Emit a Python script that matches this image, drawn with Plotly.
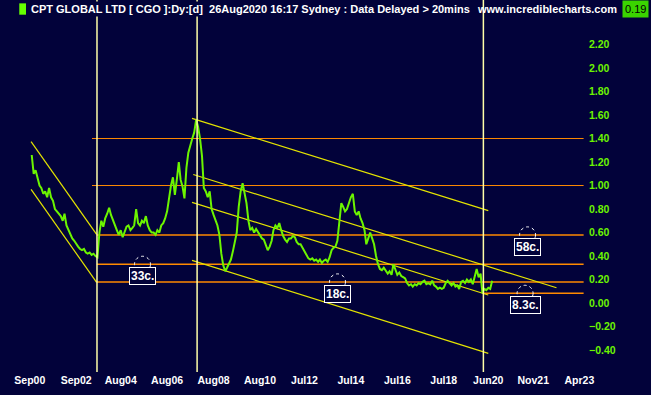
import pandas as pd
import plotly.graph_objects as go

# ---------------- data ----------------
price_start = "2000-10-01"   # monthly closes from Oct 2000 to Aug 2020
prices = [
    1.26, 1.10, 1.13, 1.05, 1.00, 0.98, 0.93, 0.95, 0.90, 0.98,
    0.90, 0.87, 0.80, 0.78, 0.76, 0.74, 0.70, 0.76, 0.66, 0.62,
    0.58, 0.55, 0.53, 0.50, 0.48, 0.46, 0.45, 0.46, 0.43, 0.42,
    0.43, 0.41, 0.42, 0.40, 0.39, 0.60, 0.70, 0.65, 0.72, 0.76,
    0.81, 0.75, 0.70, 0.66, 0.62, 0.58, 0.62, 0.56, 0.60, 0.65,
    0.66, 0.62, 0.64, 0.66, 0.80, 0.68, 0.66, 0.70, 0.68, 0.74,
    0.66, 0.62, 0.60, 0.60, 0.58, 0.62, 0.60, 0.66, 0.68, 0.72,
    0.78, 0.90, 1.00, 1.07, 0.92, 1.05, 1.20, 1.05, 0.99, 0.89,
    1.15, 1.28, 1.35, 1.40, 1.45, 1.56, 1.50, 1.40, 1.25, 0.98,
    0.95, 0.90, 0.95, 0.80, 0.75, 0.70, 0.66, 0.58, 0.42, 0.32,
    0.27, 0.30, 0.33, 0.37, 0.44, 0.52, 0.60, 0.82, 0.95, 1.02,
    0.95, 0.85, 0.70, 0.62, 0.64, 0.60, 0.63, 0.60, 0.58, 0.55,
    0.54, 0.50, 0.45, 0.48, 0.53, 0.62, 0.66, 0.64, 0.68, 0.62,
    0.57, 0.54, 0.52, 0.55, 0.55, 0.57, 0.56, 0.52, 0.50, 0.50,
    0.47, 0.44, 0.42, 0.38, 0.37, 0.38, 0.36, 0.37, 0.35, 0.37,
    0.34, 0.36, 0.37, 0.35, 0.39, 0.45, 0.47, 0.48, 0.53, 0.70,
    0.85, 0.82, 0.78, 0.80, 0.86, 0.90, 0.93, 0.78, 0.75, 0.78,
    0.72, 0.68, 0.62, 0.50, 0.55, 0.60, 0.55, 0.50, 0.40, 0.33,
    0.29, 0.28, 0.30, 0.27, 0.25, 0.27, 0.24, 0.33, 0.29, 0.24,
    0.26, 0.23, 0.22, 0.21, 0.17, 0.15, 0.16, 0.14, 0.16, 0.15,
    0.17, 0.16, 0.18, 0.19, 0.16, 0.17, 0.16, 0.19, 0.15, 0.14,
    0.12, 0.13, 0.12, 0.13, 0.17, 0.19, 0.17, 0.15, 0.17, 0.14,
    0.15, 0.12, 0.18, 0.19, 0.17, 0.20, 0.18, 0.20, 0.16, 0.22,
    0.29, 0.22, 0.25, 0.085, 0.12, 0.11, 0.13, 0.12, 0.19,
]

trend_start_dates = ["2000-09-21", "2000-09-21", "2007-08-28", "2007-09-16", "2007-08-28", "2007-08-28"]
trend_start_vals = [1.373, 0.968, 1.572, 1.094, 0.857, 0.363]
trend_end_dates = ["2003-07-19", "2003-07-19", "2020-06-01", "2023-05-10", "2020-06-01", "2020-06-01"]
trend_end_vals = [0.585, 0.176, 0.786, 0.130, 0.068, -0.428]

level_vals = [1.40, 1.00, 0.58, 0.33, 0.18, 0.083]
level_widths = [1, 1, 1.5, 1.5, 1.5, 1.5]
level_start_dates = ["2003-05-07", "2003-05-07", "2003-07-22", "2003-07-22", "2003-07-22", "2020-02-25"]
level_end_date = "2024-07-10"

vline_dates = ["2003-07-25", "2007-11-16", "2020-03-16"]

label_texts = ["33c.", "18c.", "58c.", "8.3c."]
label_levels = [0.33, 0.18, 0.58, 0.083]
label_dates = ["2005-07-10", "2013-12-03", "2022-02-09", "2022-01-01"]

tick_dates = ["2000-09-01", "2002-09-01", "2004-08-01", "2006-08-01", "2008-08-01",
              "2010-08-01", "2012-07-01", "2014-07-01", "2016-07-01", "2018-07-01",
              "2020-06-01", "2022-05-10", "2024-05-04"]
tick_texts = ["Sep00", "Sep02", "Aug04", "Aug06", "Aug08", "Aug10", "Jul12",
              "Jul14", "Jul16", "Jul18", "Jun20", "Nov21", "Apr23"]
y_ticks = [-0.4, -0.2, 0.0, 0.2, 0.4, 0.6, 0.8, 1.0, 1.2, 1.4, 1.6, 1.8, 2.0, 2.2]

title_text = "CPT GLOBAL LTD [ CGO ]:Dy:[d] &nbsp;26Aug2020 16:17 Sydney : Data Delayed &gt; 20mins"
site_text = "www.incrediblecharts.com"
last_price_text = "0.19"

# ---------------- style ----------------
BG = "#02023a"
GREEN = "#6cf500"
ORANGE = "#ff8a00"
YELLOW = "#e4e400"
VLINE = "#ffffa8"
FONT = "Liberation Sans, Arial, sans-serif"

price_dates = pd.date_range(price_start, periods=len(prices), freq="MS")

fig = go.Figure()

for xs, ys, xe, ye in zip(trend_start_dates, trend_start_vals, trend_end_dates, trend_end_vals):
    fig.add_trace(go.Scatter(x=[xs, xe], y=[ys, ye], mode="lines",
                             line=dict(color=YELLOW, width=1.2),
                             hoverinfo="skip", showlegend=False))

fig.add_trace(go.Scatter(x=price_dates, y=prices, mode="lines",
                         line=dict(color=GREEN, width=2),
                         showlegend=False))

shapes = []
for v, d0, w in zip(level_vals, level_start_dates, level_widths):
    shapes.append(dict(type="line", xref="x", yref="y", x0=d0, x1=level_end_date,
                       y0=v, y1=v, line=dict(color=ORANGE, width=w), layer="below"))
for d in vline_dates:
    shapes.append(dict(type="line", xref="x", yref="paper", x0=d, x1=d, y0=0, y1=1,
                       line=dict(color=VLINE, width=1.5), layer="above"))
for d, v in zip(label_dates, label_levels):
    shapes.append(dict(type="circle", xref="x", yref="y", xsizemode="pixel", ysizemode="pixel",
                       xanchor=d, yanchor=v, x0=-8, x1=8, y0=-8, y1=8,
                       line=dict(color="white", width=1, dash="dot")))
shapes.append(dict(type="rect", xref="paper", yref="paper", x0=0.033, x1=0.0445,
                   y0=0.9605, y1=0.991, fillcolor="#66ff00", line=dict(width=0)))

annotations = []
for t, v, d in zip(label_texts, label_levels, label_dates):
    annotations.append(dict(x=d, y=v, xref="x", yref="y", text="<b>%s</b>" % t,
                            showarrow=False, yanchor="top", yshift=-3,
                            font=dict(family=FONT, size=12, color="white"),
                            bgcolor=BG, bordercolor="white", borderwidth=1, borderpad=1))
annotations.append(dict(x=0.0497, y=0.9758, xref="paper", yref="paper", xanchor="left",
                        yanchor="middle", text="<b>%s</b>" % title_text, showarrow=False,
                        font=dict(family=FONT, size=11, color="white"), bgcolor=BG, borderpad=1))
annotations.append(dict(x=0.8134, y=0.9758, xref="paper", yref="paper", xanchor="left",
                        yanchor="middle", text="<b>%s</b>" % site_text, showarrow=False,
                        font=dict(family=FONT, size=11, color="white")))
annotations.append(dict(x=649 / 584, y=0.9758, xref="paper", yref="paper", xanchor="right",
                        yanchor="middle", text=last_price_text, showarrow=False,
                        font=dict(family=FONT, size=11, color="#000000"),
                        bgcolor="#3ad400", borderpad=2))

fig.update_layout(
    width=651, height=395,
    margin=dict(l=0, r=67, t=0, b=23, autoexpand=False),
    paper_bgcolor=BG, plot_bgcolor=BG,
    shapes=shapes, annotations=annotations,
    showlegend=False,
    hovermode=False,
    xaxis=dict(type="date", range=["1999-05-21", "2024-07-16"], automargin=False,
               tickvals=tick_dates, ticktext=tick_texts,
               showgrid=False, zeroline=False, showline=False, ticks="",
               tickfont=dict(family=FONT, size=10.5, color="white", weight="bold")),
    yaxis=dict(side="right", range=[-0.587, 2.579], tickvals=y_ticks, automargin=False,
               tickformat=".2f", showgrid=False, zeroline=False, showline=False,
               ticks="", ticklabelstandoff=4,
               tickfont=dict(family=FONT, size=10.5, color=GREEN, weight="bold")),
)

fig.write_html(
    "out.html",
    config={"displayModeBar": False, "staticPlot": True},
    post_script="document.body.style.margin='0';document.body.style.padding='0';"
                "document.body.style.background='%s';" % BG,
)
